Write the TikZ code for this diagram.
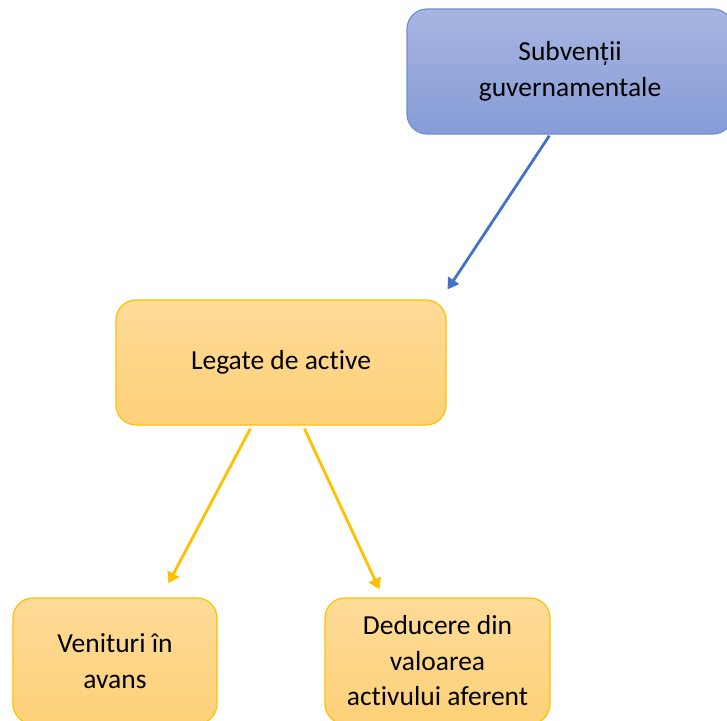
\documentclass[tikz,border=0pt]{standalone}
\usepackage{fontspec}
\setmainfont{Carlito}[Ligatures={NoCommon}]
\usetikzlibrary{calc,arrows.meta}
\definecolor{btop}{RGB}{167,181,224}
\definecolor{bbot}{RGB}{134,156,215}
\definecolor{bedge}{RGB}{110,142,208}
\definecolor{ytop}{RGB}{254,219,152}
\definecolor{ybot}{RGB}{253,209,120}
\definecolor{yedge}{RGB}{255,192,0}
\definecolor{barrow}{RGB}{68,114,196}
\tikzset{
  box/.style={rounded corners=20pt, line width=1.2pt, align=center, inner sep=0pt,
    font=\fontsize{27.5}{35.5}\selectfont, text=black},
  bluebox/.style={box, draw=bedge, top color=btop, bottom color=bbot},
  yelbox/.style={box, draw=yedge, top color=ytop, bottom color=ybot},
  conn/.style={line width=2.8pt, -{Triangle[length=11pt,width=13pt]}}
}
\begin{document}
\begin{tikzpicture}[x=1pt,y=-1pt]
\useasboundingbox (0,0) rectangle (727,720);
\clip (0,0) rectangle (727,720);
\node[bluebox, minimum width=326pt, minimum height=125pt] (top) at (570,71.5) {Subvenții\\guvernamentale};
\node[yelbox, minimum width=330pt, minimum height=125pt] (mid) at (281,362.5) {Legate de active};
\node[yelbox, minimum width=204pt, minimum height=126pt] (left) at (115,661) {Venituri în\\avans};
\node[yelbox, minimum width=225pt, minimum height=126pt] (right) at (437.5,661) {Deducere din\\valoarea\\activului aferent};
\draw[conn, draw=barrow, fill=barrow] ($(top.south west)+(143,1)$) -- ($(mid.north east)+(1,-10)$);
\draw[conn, draw=yedge, fill=yedge] ($(mid.south west)+(135,3)$) -- ($(left.north west)+(156,-14)$);
\draw[conn, draw=yedge, fill=yedge] ($(mid.south west)+(189,3)$) -- ($(right.north west)+(55,-8)$);
\end{tikzpicture}
\end{document}
